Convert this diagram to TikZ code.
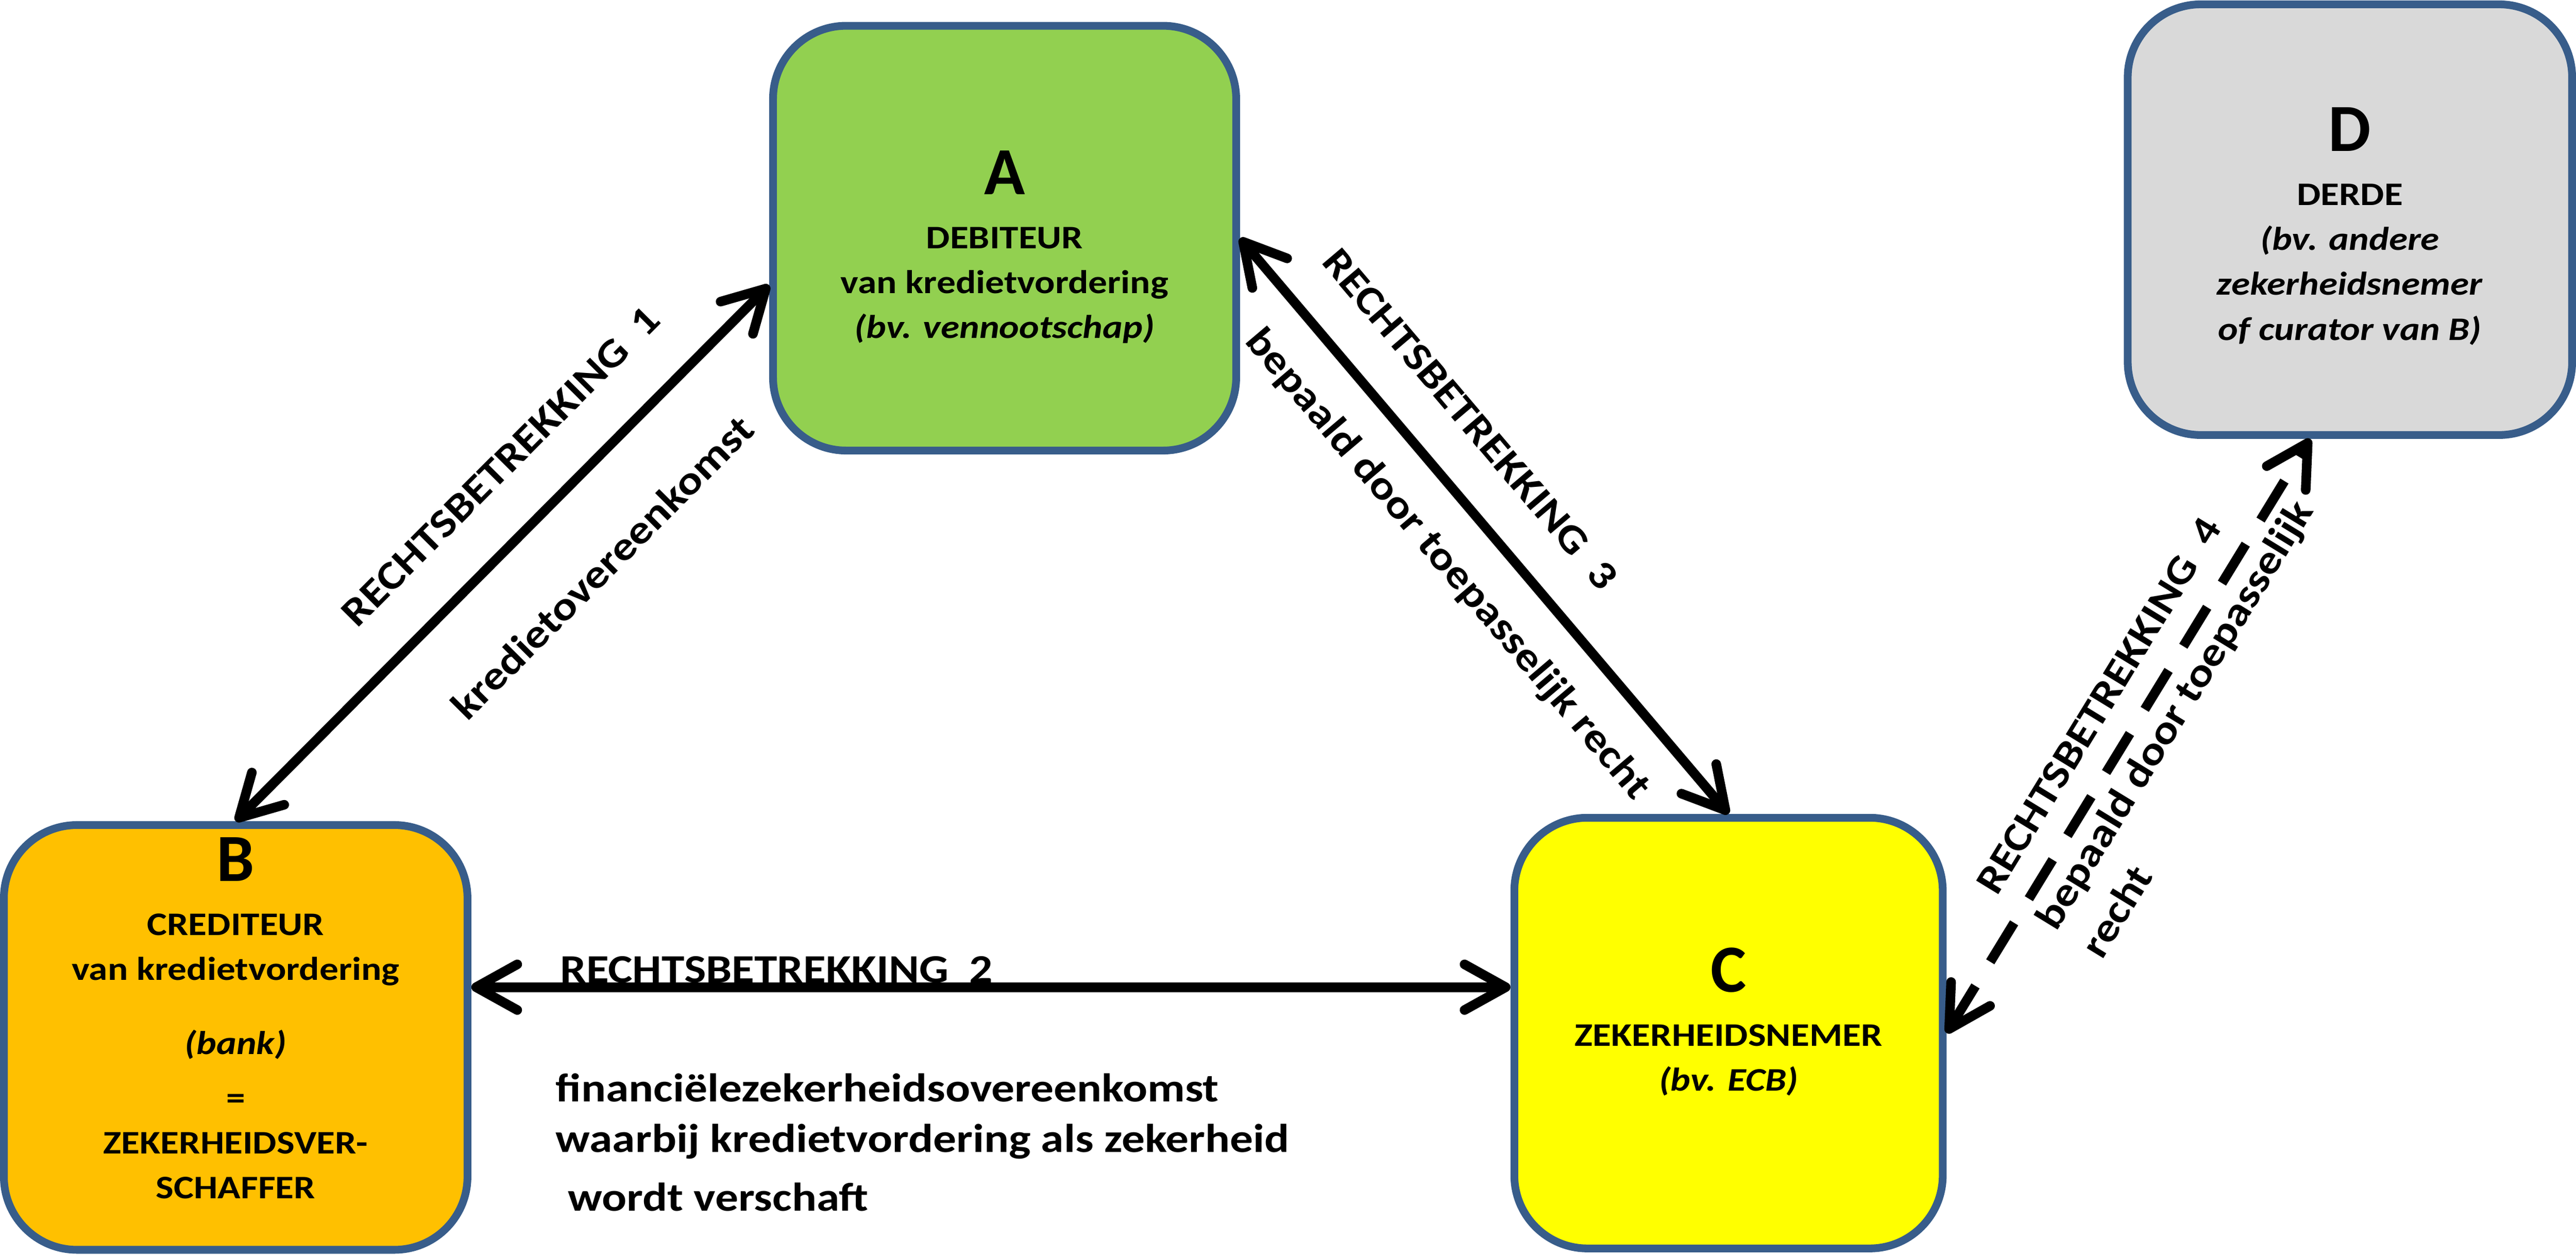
\documentclass[tikz,border=0pt]{standalone}
\usepackage{fontspec}
\setmainfont{Carlito}[FakeStretch=1.15]
\newfontfamily\letterfont{Carlito}
\usepackage{tikz}
\usetikzlibrary{arrows.meta}
\usetikzlibrary{positioning}

\definecolor{boxblue}{HTML}{385D8A}
\definecolor{debgreen}{HTML}{92D050}
\definecolor{credorange}{HTML}{FFC000}
\definecolor{takeryellow}{HTML}{FFFF00}
\definecolor{thirdgray}{HTML}{D9D9D9}

\newcommand{\partyletter}[2][0pt]{\rule{0pt}{#1}{\letterfont\bfseries\fontsize{42}{48}\selectfont #2}\\[5.6pt]}

\tikzset{
  party/.style={draw=boxblue, line width=0.17cm, rounded corners=1.6cm,
    align=center, inner sep=0pt, font=\fontsize{20.5}{28}\selectfont\bfseries},
  rel/.style={<->, line width=0.21cm},
  lbl/.style={inner sep=0pt, font=\fontsize{25}{30}\selectfont\bfseries},
}

\begin{document}
\begin{tikzpicture}[>={Straight Barb[length=0.9cm,width=1.0cm,round]}]
  \useasboundingbox (0,0) rectangle (56.4,27.5);

  % the four parties
  \node[party, fill=debgreen, minimum width=10.14cm, minimum height=9.3cm] (A) at (21.995,22.285)
    {\partyletter[38.5pt]{A}DEBITEUR\\van kredietvordering\\\textit{(bv. vennootschap)}};
  \node[party, fill=credorange, minimum width=10.15cm, minimum height=9.3cm] (B) at (5.16,4.785)
    {\partyletter{B}CREDITEUR\\van kredietvordering\\[18pt]\textit{(bank)}\\[6pt]=\\ZEKERHEIDSVER-\\SCHAFFER\rule[-24pt]{0pt}{0pt}};
  \node[party, fill=takeryellow, minimum width=9.38cm, minimum height=9.43cm] (C) at (37.845,4.88)
    {\partyletter{C}ZEKERHEIDSNEMER\\\textit{(bv. ECB)}\rule[-17pt]{0pt}{0pt}};
  \node[party, fill=thirdgray, minimum width=9.73cm, minimum height=9.43cm] (D) at (51.45,22.69)
    {\partyletter[35.5pt]{D}DERDE\\\textit{(bv. andere}\\\textit{zekerheidsnemer}\\\textit{of curator van B)}};

  % relations
  \draw[rel] (B.north) -- ([yshift=-1.03cm]A.west)
    node[lbl, sloped, pos=.58, yshift=1.37cm] (r1) {RECHTSBETREKKING\ \ 1}
    node[lbl, sloped, pos=.58, yshift=-1.76cm] (deal1) {kredietovereenkomst};
  \draw[rel] ([yshift=1.1cm]B.east) -- ([yshift=1.1cm]B.east -| C.west)
    node[lbl, pos=.081, anchor=base west, yshift=0.1cm] (r2) {RECHTSBETREKKING\ \ 2};
  \node[lbl, anchor=north west, align=left, font=\fontsize{25}{31.5}\selectfont\bfseries] (deal2)
    at ([yshift=-1.98cm]r2.base west)
    {financiëlezekerheidsovereenkomst\\waarbij kredietvordering als zekerheid\\[5pt]\hspace*{.3em}wordt verschaft};
  \draw[rel] (A.east) -- (C.north)
    node[lbl, sloped, pos=.38, yshift=1.28cm] (r3) {RECHTSBETREKKING\ \ 3}
    node[lbl, sloped, pos=.507, yshift=-1.17cm] (law3) {bepaald door toepasselijk recht};
  \draw[rel, dash pattern=on 1cm off 0.62cm] (C.east) -- ([xshift=-0.87cm]D.south)
    node[lbl, sloped, pos=.515, yshift=.9cm] (r4) {RECHTSBETREKKING\ \ 4}
    node[lbl, sloped, pos=.56, yshift=-1.18cm, align=left] (law4) {bepaald door toepasselijk\\[3.5pt]recht};
\end{tikzpicture}
\end{document}
